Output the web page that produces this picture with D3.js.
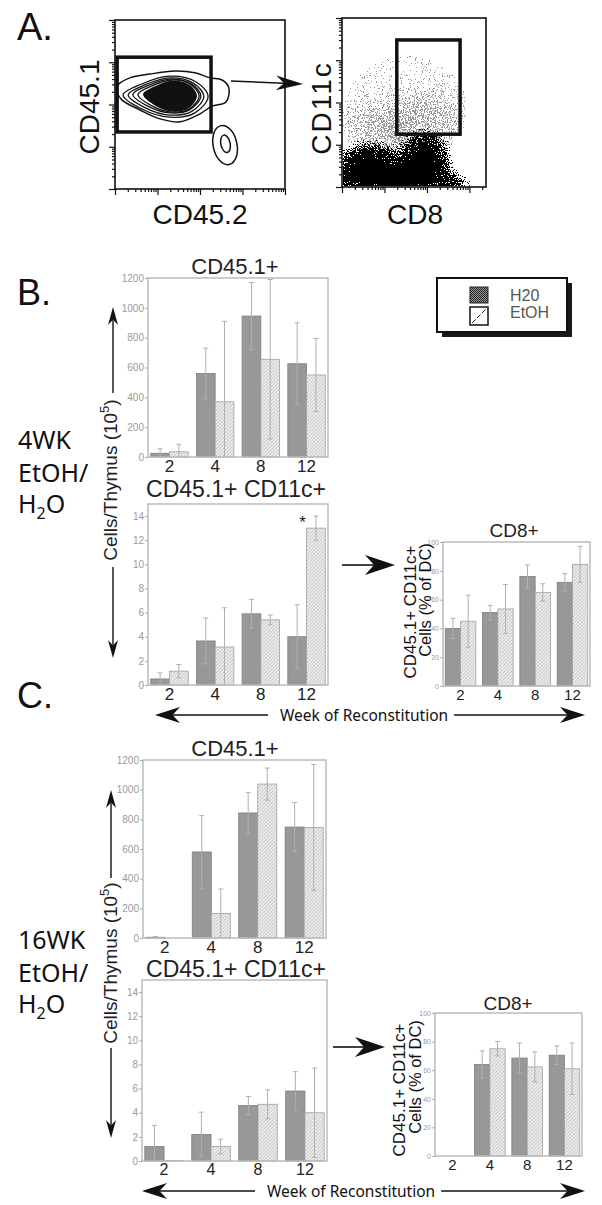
<!DOCTYPE html>
<html>
<head>
<meta charset="utf-8">
<script src="https://cdn.jsdelivr.net/npm/d3@7"></script>
<style>
  body { margin: 0; background: #fff; }
  svg { display: block; }
</style>
</head>
<body>
<div id="fig"></div>
<script>
// categories
const weeks  = ["2", "4", "8", "12"];
const groups = ["H20", "EtOH"];

// tick values
const cd451Ticks = [0, 200, 400, 600, 800, 1000, 1200];
const dcTicks    = [0, 2, 4, 6, 8, 10, 12, 14];
const cd8Ticks   = [0, 20, 40, 60, 80, 100];

// B. 4WK EtOH/H2O
const bCd451H2o     = [25, 560, 945, 625];
const bCd451H2oErr  = [30, 170, 225, 275];
const bCd451Etoh    = [35, 370, 655, 550];
const bCd451EtohErr = [50, 540, 535, 245];
const bDcH2o        = [0.5, 3.65, 5.9, 4.0];
const bDcH2oErr     = [0.5, 1.9, 1.2, 2.65];
const bDcEtoh       = [1.15, 3.15, 5.4, 13.0];
const bDcEtohErr    = [0.55, 3.25, 0.4, 1.0];
const bCd8H2o       = [40, 51, 76, 72];
const bCd8H2oErr    = [7, 5, 8, 6];
const bCd8Etoh      = [45, 53.5, 65, 84.5];
const bCd8EtohErr   = [18, 17, 6, 12.5];

// C. 16WK EtOH/H2O
const cCd451H2o     = [5, 580, 843, 748];
const cCd451H2oErr  = [5, 245, 137, 165];
const cCd451Etoh    = [0, 165, 1038, 745];
const cCd451EtohErr = [0, 165, 108, 425];
const cDcH2o        = [1.2, 2.2, 4.6, 5.8];
const cDcH2oErr     = [1.75, 1.85, 0.75, 1.6];
const cDcEtoh       = [0.05, 1.2, 4.7, 4.0];
const cDcEtohErr    = [0, 0.6, 1.2, 3.7];
const cCd8H2o       = [null, 64, 68.5, 70.5];
const cCd8H2oErr    = [null, 9.5, 10.5, 6.5];
const cCd8Etoh      = [null, 75, 62.3, 61];
const cCd8EtohErr   = [null, 5, 10.5, 18];

// A. flow plots, in log decades
const outerRing = [[0.07, 2.46], [0.35, 2.63], [0.82, 2.72], [1.41, 2.79], [1.88, 2.75], [2.24, 2.63],
                   [2.52, 2.58], [2.68, 2.39], [2.61, 2.06], [2.28, 1.96], [2.0, 1.78], [1.53, 1.59],
                   [1.06, 1.66], [0.59, 1.87], [0.16, 2.11], [0.05, 2.30]];
const innerRings = [
  {xl: 0.19, xr: 2.19, top: 2.67, bot: 1.70},
  {xl: 0.31, xr: 2.09, top: 2.63, bot: 1.75},
  {xl: 0.42, xr: 2.02, top: 2.60, bot: 1.80},
  {xl: 0.54, xr: 1.98, top: 2.58, bot: 1.82}
];
const coreBlob  = {xl: 0.66, xr: 1.93, top: 2.57, bot: 1.83};
const minorPop  = [{cx: 2.59, cy: 1.04, rx: 0.28, ry: 0.47}, {cx: 2.6, cy: 1.07, rx: 0.11, ry: 0.21}];
const leftGate  = {x0: 0.05, x1: 2.26, y0: 1.35, y1: 3.12};
const rightGate = {x0: 1.29, x1: 2.78, y0: 1.25, y1: 3.48};
const denseClouds = [
  {cx: 0.65, cy: 0.45, rx: 0.85, ry: 0.62, a: 1},
  {cx: 1.95, cy: 0.55, rx: 0.62, ry: 0.82, a: 1},
  {cx: 1.3, cy: 0.05, rx: 1.75, ry: 0.4, a: 1}
];
const sparseClouds = [
  {cx: 1.5, cy: 2.0, rx: 1.7, ry: 1.4, a: 0.37},
  {cx: 1.9, cy: 1.45, rx: 0.9, ry: 0.8, a: 0.42},
  {cx: 0.7, cy: 1.3, rx: 0.8, ry: 0.7, a: 0.38}
];

const W = 602, H = 1205;
const svg = d3.select("#fig").append("svg")
  .attr("width", W).attr("height", H)
  .style("font-family", "'Liberation Sans', Arial, sans-serif");
const defs = svg.append("defs");

// hatch for EtOH bars
const hatch = defs.append("pattern").attr("id", "hatch")
  .attr("patternUnits", "userSpaceOnUse").attr("width", 3.5).attr("height", 3.5);
hatch.append("rect").attr("width", 3.5).attr("height", 3.5).attr("fill", "#eeeeee");
hatch.append("path").attr("d", "M-1,1 l2,-2 M0,3.5 l3.5,-3.5 M2.5,4.5 l2,-2")
  .attr("stroke", "#a4a4a4").attr("stroke-width", 0.7);

// checker for legend swatch
const checker = defs.append("pattern").attr("id", "checker")
  .attr("patternUnits", "userSpaceOnUse").attr("width", 2).attr("height", 2);
checker.append("rect").attr("width", 2).attr("height", 2).attr("fill", "#9a9a9a");
checker.append("rect").attr("width", 1).attr("height", 1).attr("fill", "#222");
checker.append("rect").attr("x", 1).attr("y", 1).attr("width", 1).attr("height", 1).attr("fill", "#222");

// grain filters for the dot plot
function grainFilter(id, blur, seed) {
  const f = defs.append("filter").attr("id", id)
    .attr("filterUnits", "userSpaceOnUse").attr("x", 330).attr("y", 0).attr("width", 180).attr("height", 200);
  f.append("feGaussianBlur").attr("in", "SourceAlpha").attr("stdDeviation", blur).attr("result", "d");
  f.append("feTurbulence").attr("type", "fractalNoise").attr("baseFrequency", 0.85)
    .attr("numOctaves", 2).attr("seed", seed).attr("result", "t");
  f.append("feColorMatrix").attr("in", "t").attr("type", "matrix")
    .attr("values", "0 0 0 0 0  0 0 0 0 0  0 0 0 0 0  1 0 0 0 0").attr("result", "n0");
  f.append("feComponentTransfer").attr("in", "n0").attr("result", "n")
    .append("feFuncA").attr("type", "linear").attr("slope", 2.6).attr("intercept", -0.8);
  f.append("feComposite").attr("in", "d").attr("in2", "n").attr("operator", "arithmetic")
    .attr("k1", 0).attr("k2", 1.5).attr("k3", -1).attr("k4", 0).attr("result", "c");
  f.append("feComponentTransfer").attr("in", "c")
    .append("feFuncA").attr("type", "discrete").attr("tableValues", "0 1");
}
grainFilter("grainDense", 7, 7);
grainFilter("grainSparse", 10, 3);

let clipN = 0;

function arrow(x1, y1, x2, y2, len, half, sw) {
  const a = Math.atan2(y2 - y1, x2 - x1);
  const g = svg.append("g");
  const bx = x2 - Math.cos(a) * len * 0.7, by = y2 - Math.sin(a) * len * 0.7;
  g.append("line").attr("x1", x1).attr("y1", y1).attr("x2", bx).attr("y2", by)
    .attr("stroke", "#111").attr("stroke-width", sw || 1.6);
  g.append("path")
    .attr("d", `M0,0 L${-len},${-half} L${-len * 0.7},0 L${-len},${half} Z`)
    .attr("transform", `translate(${x2},${y2}) rotate(${a * 180 / Math.PI})`)
    .attr("fill", "#111");
}

function label(x, y, txt, size, opts) {
  opts = opts || {};
  const t = svg.append("text")
    .attr("transform", `translate(${x},${y})` + (opts.rot ? " rotate(-90)" : ""))
    .attr("text-anchor", opts.anchor || "start")
    .attr("fill", opts.fill || "#111")
    .style("font-size", size + "px");
  if (opts.family) t.style("font-family", opts.family);
  if (opts.ls) t.style("letter-spacing", opts.ls + "px");
  t.text(txt);
  return t;
}

function decadeTicks(n) {
  const v = [];
  for (let d = 0; d < Math.ceil(n); d++)
    for (let k = 1; k <= 9; k++) if (Math.log10(k * 10 ** d) <= n + 1e-9) v.push(k * 10 ** d);
  if (Number.isInteger(n)) v.push(10 ** n);
  return v;
}
const isMajor = v => Math.abs(Math.log10(v) - Math.round(Math.log10(v))) < 1e-9;

function flowFrame(o) {
  const x = d3.scaleLinear().domain([0, o.xDec]).range([o.x0, o.x1]);
  const y = d3.scaleLinear().domain([0, o.yDec]).range([o.y1, o.y0]);
  const xl = d3.scaleLog().domain([1, 10 ** o.xDec]).range([o.x0, o.x1]);
  const yl = d3.scaleLog().domain([1, 10 ** o.yDec]).range([o.y1, o.y0]);
  const xt = decadeTicks(o.xDec), yt = decadeTicks(o.yDec);
  const g = svg.append("g");
  [[xt.filter(v => !isMajor(v)), 3], [xt.filter(isMajor), 6]].forEach(([vals, s]) => {
    g.append("g").attr("transform", `translate(0,${o.y1})`)
      .call(d3.axisBottom(xl).tickValues(vals).tickSize(s).tickFormat(""))
      .call(a => a.select(".domain").remove())
      .selectAll("line").attr("stroke", "#111").attr("stroke-width", 1.2);
  });
  [[yt.filter(v => !isMajor(v)), 3], [yt.filter(isMajor), 6]].forEach(([vals, s]) => {
    g.append("g").attr("transform", `translate(${o.x0},0)`)
      .call(d3.axisLeft(yl).tickValues(vals).tickSize(s).tickFormat(""))
      .call(a => a.select(".domain").remove())
      .selectAll("line").attr("stroke", "#111").attr("stroke-width", 1.2);
  });
  return {x, y, g, o};
}

function frameBox(f) {
  f.g.append("rect").attr("x", f.o.x0).attr("y", f.o.y0)
    .attr("width", f.o.x1 - f.o.x0).attr("height", f.o.y1 - f.o.y0)
    .attr("fill", "none").attr("stroke", "#111").attr("stroke-width", 1.6);
}

function gateBox(f, gt) {
  f.g.append("rect").attr("x", f.x(gt.x0)).attr("y", f.y(gt.y1))
    .attr("width", f.x(gt.x1) - f.x(gt.x0)).attr("height", f.y(gt.y0) - f.y(gt.y1))
    .attr("fill", "none").attr("stroke", "#111").attr("stroke-width", 3.5);
}

function blobPts(r) {
  const w = r.xr - r.xl, yc = (r.top + r.bot) / 2, hu = r.top - yc, hd = yc - r.bot;
  return [[r.xl, yc + 0.04], [r.xl + 0.22 * w, yc + 0.62 * hu], [r.xl + 0.55 * w, r.top],
          [r.xl + 0.86 * w, yc + 0.72 * hu], [r.xr, yc], [r.xl + 0.84 * w, yc - 0.8 * hd],
          [r.xl + 0.55 * w, r.bot], [r.xl + 0.22 * w, yc - 0.6 * hd]];
}

function clouds(f, parent, data) {
  parent.selectAll("ellipse").data(data).join("ellipse")
    .attr("cx", d => f.x(d.cx)).attr("cy", d => f.y(d.cy))
    .attr("rx", d => f.x(d.rx) - f.x(0)).attr("ry", d => f.y(0) - f.y(d.ry))
    .attr("fill", "#000").attr("fill-opacity", d => d.a);
}

// ---------- A. contour plot ----------
const fa = flowFrame({x0: 115, x1: 285, y0: 20, y1: 189, xDec: 4, yDec: 4});
const ringLine = d3.line().x(d => fa.x(d[0])).y(d => fa.y(d[1])).curve(d3.curveCatmullRomClosed);
fa.g.append("path").attr("d", ringLine(outerRing)).attr("fill", "none").attr("stroke", "#111").attr("stroke-width", 1.5);
fa.g.selectAll(".ring").data(innerRings).join("path").attr("class", "ring")
  .attr("d", d => ringLine(blobPts(d))).attr("fill", "none").attr("stroke", "#111").attr("stroke-width", 1.3);
fa.g.append("path").attr("d", ringLine(blobPts(coreBlob))).attr("fill", "#111");
fa.g.selectAll(".minor").data(minorPop).join("ellipse").attr("class", "minor")
  .attr("cx", d => fa.x(d.cx)).attr("cy", d => fa.y(d.cy))
  .attr("rx", d => fa.x(d.rx) - fa.x(0)).attr("ry", d => fa.y(0) - fa.y(d.ry))
  .attr("transform", d => `rotate(-12 ${fa.x(d.cx)} ${fa.y(d.cy)})`)
  .attr("fill", "none").attr("stroke", "#111").attr("stroke-width", 1.5);
frameBox(fa);
gateBox(fa, leftGate);

// ---------- A. dot plot ----------
const fb = flowFrame({x0: 342, x1: 486, y0: 18, y1: 187, xDec: 3.39, yDec: 4});
defs.append("clipPath").attr("id", "dotclip").append("rect")
  .attr("x", 343).attr("y", 19).attr("width", 142).attr("height", 167);
const dots = fb.g.append("g").attr("clip-path", "url(#dotclip)");
clouds(fb, dots.append("g").attr("filter", "url(#grainSparse)").attr("opacity", 0.4), sparseClouds);
clouds(fb, dots.append("g").attr("filter", "url(#grainDense)"), denseClouds);
frameBox(fb);
gateBox(fb, rightGate);

label(17, 40, "A.", 38);
label(99, 107, "CD45.1", 28, {rot: true, anchor: "middle"});
label(200, 224, "CD45.2", 28, {anchor: "middle"});
label(331, 108, "CD11c", 28, {rot: true, anchor: "middle", ls: 2});
label(415, 224, "CD8", 28, {anchor: "middle"});
arrow(231, 81, 303, 84, 27, 7.5, 1.4);

// ---------- bar charts ----------
function barChart(o) {
  const x = d3.scaleBand().domain(weeks).range([o.x0, o.x1]).paddingInner(0.18).paddingOuter(0.06);
  const xs = d3.scaleBand().domain(groups).range([0, x.bandwidth()]);
  const y = d3.scaleLinear().domain([0, o.max]).range([o.y1, o.y0]);
  const g = svg.append("g");
  const cid = "clip" + (clipN++);
  defs.append("clipPath").attr("id", cid).append("rect")
    .attr("x", o.x0).attr("y", o.y0).attr("width", o.x1 - o.x0).attr("height", o.y1 - o.y0);

  const rows = [];
  weeks.forEach((w, i) => {
    rows.push({w, s: "H20", v: o.h2o[i], e: o.h2oErr[i]});
    rows.push({w, s: "EtOH", v: o.etoh[i], e: o.etohErr[i]});
  });
  const bars = rows.filter(d => d.v != null);
  const cx = d => x(d.w) + xs(d.s) + xs.bandwidth() / 2;

  g.selectAll(".bar").data(bars).join("rect").attr("class", "bar")
    .attr("x", d => x(d.w) + xs(d.s)).attr("width", xs.bandwidth())
    .attr("y", d => y(d.v)).attr("height", d => y(0) - y(d.v))
    .attr("fill", d => d.s === "H20" ? "#989898" : "url(#hatch)")
    .attr("stroke", d => d.s === "H20" ? "#7e7e7e" : "#a0a0a0")
    .attr("stroke-width", 0.8);

  const errs = bars.filter(d => d.e);
  const eb = g.append("g").attr("clip-path", `url(#${cid})`)
    .attr("stroke", "#b0b0b0").attr("stroke-width", 1);
  eb.selectAll(".ev").data(errs).join("line").attr("class", "ev")
    .attr("x1", cx).attr("x2", cx)
    .attr("y1", d => y(d.v + d.e)).attr("y2", d => y(Math.max(0, d.v - d.e)));
  eb.selectAll(".ct").data(errs).join("line").attr("class", "ct")
    .attr("x1", d => cx(d) - 2.5).attr("x2", d => cx(d) + 2.5)
    .attr("y1", d => y(d.v + d.e)).attr("y2", d => y(d.v + d.e));
  eb.selectAll(".cb").data(errs.filter(d => d.v - d.e > 0)).join("line").attr("class", "cb")
    .attr("x1", d => cx(d) - 2.5).attr("x2", d => cx(d) + 2.5)
    .attr("y1", d => y(d.v - d.e)).attr("y2", d => y(d.v - d.e));

  g.append("rect").attr("x", o.x0).attr("y", o.y0)
    .attr("width", o.x1 - o.x0).attr("height", o.y1 - o.y0)
    .attr("fill", "none").attr("stroke", "#bcbcbc").attr("stroke-width", 1.5);

  const ya = g.append("g").attr("transform", `translate(${o.x0},0)`)
    .call(d3.axisLeft(y).tickValues(o.ticks).tickSize(3).tickPadding(1).tickFormat(d3.format("d")));
  ya.select(".domain").remove();
  ya.selectAll("line").attr("stroke", "#aaa");
  ya.selectAll("text").attr("fill", "#9a9a9a")
    .style("font-size", o.tickFont + "px").style("font-family", "'Liberation Sans', Arial, sans-serif");

  g.selectAll(".xl").data(weeks).join("text").attr("class", "xl")
    .attr("x", d => x(d) + x.bandwidth() / 2).attr("y", o.labelY)
    .attr("text-anchor", "middle").attr("fill", "#222")
    .style("font-size", o.labelFont + "px").text(d => d);

  g.append("text").attr("x", o.titleX).attr("y", o.titleY).attr("text-anchor", "middle")
    .attr("fill", "#222").style("font-size", o.titleFont + "px").text(o.title);
  return {x, xs, y, g};
}

function cellsLabel(x, y) {
  const t = svg.append("text").attr("transform", `translate(${x},${y}) rotate(-90)`)
    .attr("text-anchor", "middle").attr("fill", "#222").style("font-size", "19px");
  t.append("tspan").text("Cells/Thymus (10");
  t.append("tspan").attr("dy", -8).style("font-size", "13px").text("5");
  t.append("tspan").attr("dy", 8).text(")");
}

function groupLabel(x, y, first) {
  const fam = "'Noto Sans', sans-serif";
  label(x, y, first, 25, {family: fam});
  label(x, y + 33, "EtOH/", 25, {family: fam});
  const t = svg.append("text").attr("x", x).attr("y", y + 64)
    .style("font-family", fam).style("font-size", "25px").attr("fill", "#111");
  t.append("tspan").text("H");
  t.append("tspan").attr("dy", 6).style("font-size", "16px").text("2");
  t.append("tspan").attr("dy", -6).text("O");
}

function cd8Label(x1, x2, y1, y2) {
  label(x1, y1, "CD45.1+ CD11c+", 17, {rot: true, anchor: "middle"});
  label(x2, y2, "Cells (% of DC)", 16.5, {rot: true, anchor: "middle"});
}

function weekAxis(y, leftTip, textX, rightTip) {
  arrow(textX - 12, y, leftTip, y, 25, 8, 1.6);
  const t = label(textX, y + 6, "Week of Reconstitution", 15.5, {family: "'Noto Sans', sans-serif"});
  const w = t.node().getComputedTextLength();
  arrow(textX + w + 6, y, rightTip, y, 25, 8, 1.6);
}

// ---------- B ----------
label(17, 305, "B.", 36);
barChart({x0: 148, x1: 328, y0: 278, y1: 457, max: 1200, ticks: cd451Ticks, tickFont: 10,
  h2o: bCd451H2o, h2oErr: bCd451H2oErr, etoh: bCd451Etoh, etohErr: bCd451EtohErr,
  labelY: 472, labelFont: 17, title: "CD45.1+", titleX: 235, titleY: 274, titleFont: 22});
const bDc = barChart({x0: 148, x1: 328, y0: 504, y1: 685, max: 15, ticks: dcTicks, tickFont: 10,
  h2o: bDcH2o, h2oErr: bDcH2oErr, etoh: bDcEtoh, etohErr: bDcEtohErr,
  labelY: 700, labelFont: 17, title: "CD45.1+ CD11c+", titleX: 236, titleY: 497, titleFont: 23});
bDc.g.append("text")
  .attr("x", bDc.x("12") + bDc.xs("EtOH") - 4).attr("y", bDc.y(bDcEtoh[3] + bDcEtohErr[3]) + 12)
  .attr("text-anchor", "middle").style("font-size", "17px").attr("fill", "#222").text("*");
barChart({x0: 443, x1: 590, y0: 542, y1: 686, max: 100, ticks: cd8Ticks, tickFont: 7,
  h2o: bCd8H2o, h2oErr: bCd8H2oErr, etoh: bCd8Etoh, etohErr: bCd8EtohErr,
  labelY: 700, labelFont: 15, title: "CD8+", titleX: 514, titleY: 537, titleFont: 19});
cd8Label(416, 431, 612, 600);
cellsLabel(117, 480);
arrow(113, 393, 113, 307, 18, 5, 1.4);
arrow(113, 567, 113, 658, 18, 5, 1.4);
groupLabel(18, 449, "4WK");
arrow(342, 565, 395, 565, 30, 10, 1.6);
weekAxis(715, 155, 280, 585);

// legend
const lg = svg.append("g");
lg.append("rect").attr("x", 442).attr("y", 283).attr("width", 130).attr("height", 54).attr("fill", "#1a1a1a");
lg.append("rect").attr("x", 437).attr("y", 278).attr("width", 130).attr("height", 54)
  .attr("fill", "#fff").attr("stroke", "#111").attr("stroke-width", 2);
lg.append("rect").attr("x", 470).attr("y", 287).attr("width", 18).attr("height", 16)
  .attr("fill", "url(#checker)").attr("stroke", "#222").attr("stroke-width", 1);
lg.append("rect").attr("x", 470).attr("y", 307).attr("width", 18).attr("height", 18)
  .attr("fill", "#fff").attr("stroke", "#111").attr("stroke-width", 1.5);
lg.append("path").attr("d", "M472,323 L486,309").attr("stroke", "#222").attr("stroke-width", 1)
  .attr("stroke-dasharray", "5,2");
lg.selectAll(".lt").data(groups).join("text").attr("class", "lt")
  .attr("x", 510).attr("y", (d, i) => 301 + i * 17).attr("fill", "#555")
  .style("font-size", "16px").text(d => d);

// ---------- C ----------
label(17, 708, "C.", 36);
barChart({x0: 143, x1: 326, y0: 760, y1: 938, max: 1200, ticks: cd451Ticks, tickFont: 10,
  h2o: cCd451H2o, h2oErr: cCd451H2oErr, etoh: cCd451Etoh, etohErr: cCd451EtohErr,
  labelY: 953, labelFont: 17, title: "CD45.1+", titleX: 235, titleY: 756, titleFont: 22});
barChart({x0: 142, x1: 327, y0: 980, y1: 1161, max: 15, ticks: dcTicks, tickFont: 10,
  h2o: cDcH2o, h2oErr: cDcH2oErr, etoh: cDcEtoh, etohErr: cDcEtohErr,
  labelY: 1175, labelFont: 16, title: "CD45.1+ CD11c+", titleX: 236, titleY: 977, titleFont: 23});
barChart({x0: 435, x1: 582, y0: 1013, y1: 1156, max: 100, ticks: cd8Ticks, tickFont: 7,
  h2o: cCd8H2o, h2oErr: cCd8H2oErr, etoh: cCd8Etoh, etohErr: cCd8EtohErr,
  labelY: 1170, labelFont: 15, title: "CD8+", titleX: 508, titleY: 1010, titleFont: 19});
cd8Label(405, 421, 1090, 1077);
cellsLabel(117, 963);
arrow(111, 878, 111, 790, 18, 5, 1.4);
arrow(111, 1048, 111, 1138, 18, 5, 1.4);
groupLabel(18, 949, "16WK");
arrow(333, 1047, 385, 1047, 30, 10, 1.6);
weekAxis(1191, 142, 267, 585);
</script>
</body>
</html>
